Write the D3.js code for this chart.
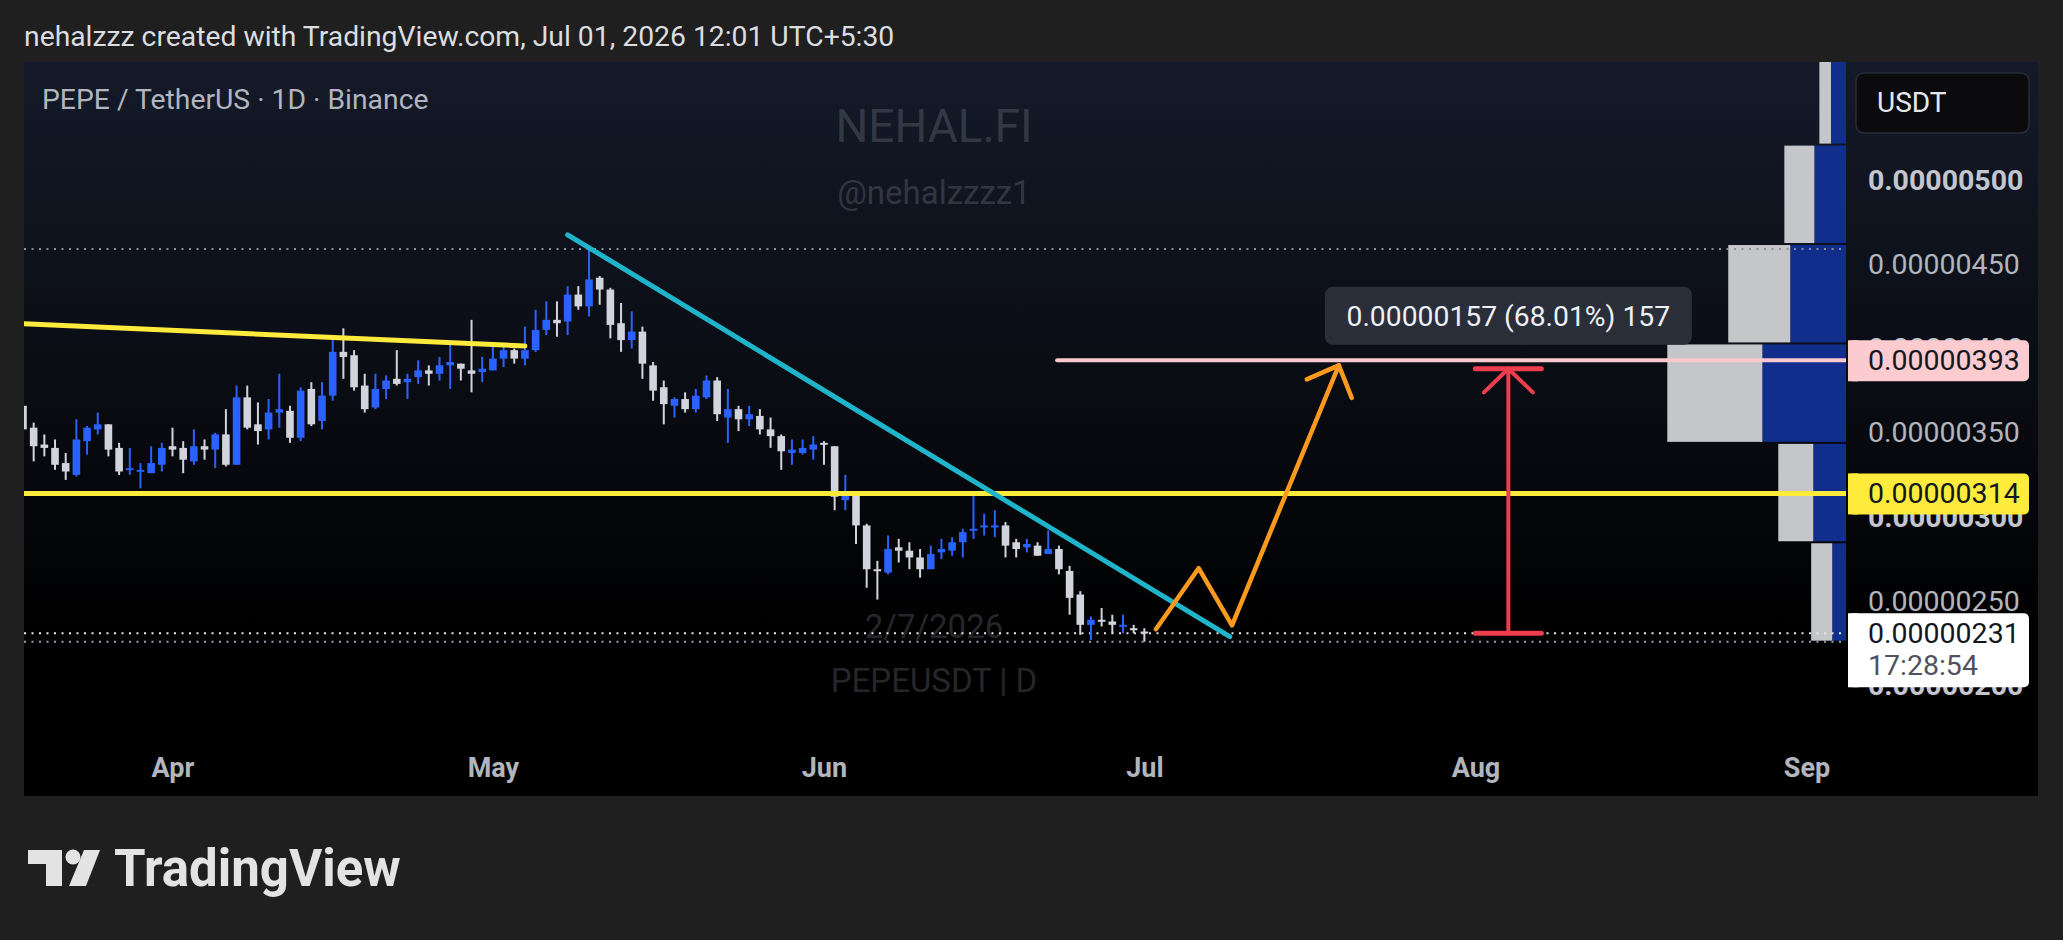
<!DOCTYPE html>
<html>
<head>
<meta charset="utf-8">
<script src="https://cdn.jsdelivr.net/npm/d3@7"></script>
<style>
  html, body { margin: 0; padding: 0; background: #1f1f1f; }
  svg { display: block; font-family: Roboto, "Noto Sans", sans-serif; }
</style>
</head>
<body>
<div id="chart"></div>
<script>
// prices are in units of 1e-6 USDT
const UNIT = 1e-6;

// daily candles, Mar 18 -> Jul 1 2026
const dates = d3.utcDay.range(new Date("2026-03-18"), new Date("2026-07-02"));
const open = [3.66,3.53,3.43,3.41,3.32,3.25,3.45,3.52,3.55,3.41,3.28,3.27,3.26,3.31,
  3.42,3.41,3.33,3.42,3.40,3.49,3.31,3.71,3.55,3.52,3.62,3.63,3.47,3.76,3.57,3.72,
  3.98,3.96,3.78,3.65,3.76,3.82,3.80,3.83,3.87,3.85,3.90,3.91,3.87,3.86,
  3.87,3.94,3.99,3.94,3.99,4.11,4.17,4.16,4.32,4.25,4.42,4.35,4.15,4.05,4.10,3.90,
  3.77,3.66,3.70,3.64,3.71,3.81,3.59,3.64,3.58,3.60,3.52,3.48,3.38,3.38,3.40,
  3.44,3.42,3.10,3.13,2.95,2.69,2.67,2.82,2.80,2.76,2.69,2.79,2.80,2.85,2.92,
  2.94,2.94,2.95,2.85,2.82,2.83,2.78,2.81,2.68,2.54,2.36,2.39,2.38,2.35,2.34,
  2.32];
const high = [3.80,3.56,3.49,3.46,3.38,3.58,3.54,3.62,3.55,3.44,3.41,3.32,3.42,3.44,
  3.53,3.45,3.52,3.46,3.50,3.64,3.78,3.78,3.68,3.70,3.85,3.66,3.77,3.80,3.80,4.06,
  4.12,3.99,3.85,3.85,3.84,3.99,3.85,3.93,3.90,3.95,4.03,3.91,4.17,3.95,
  4.03,4.01,4.00,4.13,4.23,4.28,4.28,4.37,4.37,4.59,4.43,4.36,4.27,4.22,4.13,3.92,
  3.81,3.71,3.74,3.76,3.84,3.83,3.76,3.66,3.66,3.64,3.59,3.49,3.46,3.46,3.48,
  3.45,3.42,3.25,3.14,2.96,2.74,2.89,2.87,2.85,2.81,2.83,2.87,2.88,2.93,3.13,
  3.02,3.04,2.97,2.87,2.87,2.85,2.92,2.83,2.71,2.56,2.41,2.46,2.42,2.42,2.36,
  2.34];
const low = [3.43,3.33,3.36,3.28,3.22,3.24,3.37,3.49,3.36,3.25,3.25,3.17,3.26,3.27,
  3.36,3.26,3.31,3.34,3.29,3.30,3.31,3.52,3.43,3.46,3.53,3.44,3.45,3.54,3.52,3.69,
  3.82,3.75,3.62,3.64,3.70,3.78,3.70,3.79,3.78,3.81,3.76,3.81,3.74,3.80,
  3.87,3.89,3.91,3.90,3.98,4.08,4.07,4.08,4.23,4.19,4.26,4.06,3.98,4.00,3.82,3.69,
  3.55,3.59,3.62,3.62,3.70,3.57,3.44,3.51,3.54,3.49,3.41,3.28,3.31,3.37,3.34,
  3.31,3.04,3.04,2.84,2.58,2.51,2.66,2.73,2.69,2.64,2.69,2.75,2.77,2.76,2.87,
  2.89,2.88,2.76,2.76,2.79,2.77,2.78,2.66,2.42,2.30,2.27,2.35,2.31,2.31,2.31,
  2.26];
const close = [3.52,3.42,3.41,3.31,3.27,3.46,3.53,3.55,3.40,3.27,3.29,3.28,3.32,3.41,
  3.40,3.34,3.42,3.40,3.49,3.31,3.71,3.53,3.51,3.62,3.64,3.47,3.75,3.55,3.72,3.98,
  3.95,3.77,3.64,3.76,3.81,3.79,3.82,3.87,3.85,3.90,3.92,3.88,3.85,3.88,
  3.94,3.99,3.94,3.99,4.11,4.17,4.15,4.32,4.25,4.41,4.35,4.14,4.05,4.10,3.91,3.75,
  3.67,3.70,3.64,3.72,3.81,3.61,3.64,3.58,3.61,3.52,3.48,3.39,3.40,3.41,3.43,
  3.43,3.12,3.14,2.95,2.69,2.68,2.81,2.80,2.76,2.69,2.78,2.81,2.85,2.91,2.93,
  2.95,2.95,2.83,2.81,2.84,2.77,2.81,2.69,2.52,2.36,2.39,2.38,2.36,2.36,2.33,
  2.31];

const priceTicks = [2.0, 2.5, 3.0, 3.5, 4.0, 4.5, 5.0];
const monthTicks = ["2026-04-01","2026-05-01","2026-06-01","2026-07-01","2026-08-01","2026-09-01"];

// visible range volume profile (relative volume per price row)
const vpLo = [2.26, 2.85, 3.44, 4.03, 4.62, 5.21];
const vpHi = [2.85, 3.44, 4.03, 4.62, 5.21, 5.80];
const vpUp = [7.7, 18.3, 46.8, 31.2, 17.7, 8.4];
const vpDown = [11.8, 19.6, 53.2, 34.7, 16.8, 6.5];

// drawings
const resistLine = [["2026-03-17", 4.15], ["2026-05-04", 4.015]];
const supportLevel = 3.14;
const targetLevel = 3.93;
const targetStart = "2026-06-22T20:00Z";
const trendLine = [["2026-05-08", 4.675], ["2026-07-09", 2.29]];
const projection = [["2026-07-02T02:00Z", 2.334], ["2026-07-06T02:00Z", 2.696],
  ["2026-07-09T05:00Z", 2.357], ["2026-07-19T05:00Z", 3.90]];
const measureDate = "2026-08-04T02:00Z";
const measureFrom = 2.31, measureTo = 3.88;
const measureText = "0.00000157 (68.01%) 157";
const lastPrice = 2.31;
const countdown = "17:28:54";

const W = 2063, H = 940;
const panel = {x0: 24, y0: 62, x1: 2038, y1: 796};
const axisX = 1846;

const x = d3.scaleUtc()
  .domain([new Date("2026-04-01"), new Date("2026-09-01")])
  .range([172.5, 1806.5]);
const y = d3.scaleLinear().domain([2, 5]).range([685.5, 180]);
const vx = d3.scaleLinear().domain([0, 100]).range([0, 178.7]);
const fmt = v => (v * UNIT).toFixed(8);
const pt = d => [x(new Date(d[0])), y(d[1])];

const svg = d3.select("#chart").append("svg")
  .attr("width", W).attr("height", H);

const defs = svg.append("defs");
const grad = defs.append("linearGradient")
  .attr("id", "bg").attr("x1", 0).attr("y1", 0).attr("x2", 0).attr("y2", 1);
grad.append("stop").attr("offset", "0%").attr("stop-color", "#141a29");
grad.append("stop").attr("offset", "45%").attr("stop-color", "#0a0c13");
grad.append("stop").attr("offset", "78%").attr("stop-color", "#000000");
grad.append("stop").attr("offset", "100%").attr("stop-color", "#000000");
defs.append("clipPath").attr("id", "plot")
  .append("rect").attr("x", panel.x0).attr("y", panel.y0)
  .attr("width", axisX - panel.x0).attr("height", panel.y1 - panel.y0);

svg.append("rect").attr("width", W).attr("height", H).attr("fill", "#1f1f1f");

svg.append("text")
  .attr("x", 24).attr("y", 36).attr("dy", "0.35em")
  .attr("fill", "#dcdde0").attr("font-size", 28.3)
  .text("nehalzzz created with TradingView.com, Jul 01, 2026 12:01 UTC+5:30");

svg.append("rect")
  .attr("x", panel.x0).attr("y", panel.y0)
  .attr("width", panel.x1 - panel.x0).attr("height", panel.y1 - panel.y0)
  .attr("fill", "url(#bg)");

// watermarks
const wm = svg.append("g").attr("text-anchor", "middle").attr("fill", "rgba(134,138,150,0.3)");
wm.append("text").attr("x", 934).attr("y", 126).attr("dy", "0.35em").attr("font-size", 46).text("NEHAL.FI");
wm.append("text").attr("x", 934).attr("y", 192).attr("dy", "0.35em").attr("font-size", 33).text("@nehalzzzz1");
wm.append("text").attr("x", 934).attr("y", 626).attr("dy", "0.35em").attr("font-size", 33).text("2/7/2026");
wm.append("text").attr("x", 934).attr("y", 680).attr("dy", "0.35em").attr("font-size", 33).text("PEPEUSDT | D");

svg.append("text")
  .attr("x", 42).attr("y", 99).attr("dy", "0.35em")
  .attr("fill", "#b2b5be").attr("font-size", 28.3)
  .text("PEPE / TetherUS \u00b7 1D \u00b7 Binance");

const plot = svg.append("g").attr("clip-path", "url(#plot)");

// volume profile
const vp = plot.append("g");
vpLo.forEach((lo, i) => {
  const top = y(vpHi[i]) + 1, bot = y(lo) - 1;
  vp.append("rect")
    .attr("x", axisX - vx(vpUp[i])).attr("y", top)
    .attr("width", vx(vpUp[i])).attr("height", bot - top)
    .attr("fill", "#112e8c");
  vp.append("rect")
    .attr("x", axisX - vx(vpUp[i] + vpDown[i])).attr("y", top)
    .attr("width", vx(vpDown[i])).attr("height", bot - top)
    .attr("fill", "#c5c6c9");
});

// range high / low and last price dotted lines
const hiY = y(d3.max(high)), loY = y(d3.min(low));
[[hiY, "#8d9099"], [loY, "#9aa0ac"], [y(lastPrice), "#e6e8ee"]].forEach(([yy, c]) => {
  plot.append("line")
    .attr("x1", panel.x0).attr("x2", axisX).attr("y1", yy).attr("y2", yy)
    .attr("stroke", c).attr("stroke-width", 2).attr("stroke-dasharray", "2 5.5");
});

// candles
const bw = 7.6;
const candles = plot.append("g").selectAll("g").data(dates).join("g")
  .attr("fill", (d, i) => close[i] >= open[i] ? "#2962ff" : "#d1d4dc");
candles.append("rect")
  .attr("x", d => x(d) - 1).attr("width", 2)
  .attr("y", (d, i) => y(high[i]))
  .attr("height", (d, i) => y(low[i]) - y(high[i]));
candles.append("rect")
  .attr("x", d => x(d) - bw / 2).attr("width", bw)
  .attr("y", (d, i) => y(Math.max(open[i], close[i])))
  .attr("height", (d, i) => Math.max(2, Math.abs(y(open[i]) - y(close[i]))));

// drawings
const line = d3.line();
const draw = (pts, color, w) => plot.append("path")
  .attr("d", line(pts)).attr("fill", "none")
  .attr("stroke", color).attr("stroke-width", w)
  .attr("stroke-linecap", "round").attr("stroke-linejoin", "round");

function wings(tip, from, len, deg) {
  const dx = from[0] - tip[0], dy = from[1] - tip[1];
  const n = Math.hypot(dx, dy), ux = dx / n, uy = dy / n;
  return [-1, 1].map(s => {
    const a = s * deg * Math.PI / 180;
    return [tip[0] + len * (ux * Math.cos(a) - uy * Math.sin(a)),
            tip[1] + len * (ux * Math.sin(a) + uy * Math.cos(a))];
  });
}

draw(resistLine.map(pt), "#ffeb3b", 5);
draw([[panel.x0, y(supportLevel)], [axisX, y(supportLevel)]], "#ffeb3b", 5);
draw([[x(new Date(targetStart)), y(targetLevel)], [axisX + 4, y(targetLevel)]], "#f9c9ce", 4);
draw(trendLine.map(pt), "#1fb4c9", 5);

const proj = projection.map(pt);
draw(proj, "#fb9a1e", 4.5);
const tip = proj[proj.length - 1];
const ow = wings(tip, proj[proj.length - 2], 35, 44);
draw([ow[0], tip, ow[1]], "#fb9a1e", 4.5);

const mx = x(new Date(measureDate));
const mTop = [mx, y(measureTo)], mBot = [mx, y(measureFrom)];
draw([mBot, mTop], "#ee3d4c", 4);
draw([[mx - 33, mTop[1]], [mx + 33, mTop[1]]], "#ee3d4c", 5);
draw([[mx - 33, mBot[1]], [mx + 33, mBot[1]]], "#ee3d4c", 5);
const rw = wings(mTop, mBot, 34, 46);
draw([rw[0], mTop, rw[1]], "#ee3d4c", 4);

const lab = svg.append("g");
lab.append("rect")
  .attr("x", mx - 183.5).attr("y", mTop[1] - 82).attr("width", 367).attr("height", 58)
  .attr("rx", 8).attr("fill", "#2a2e39");
lab.append("text")
  .attr("x", mx).attr("y", mTop[1] - 53).attr("dy", "0.35em")
  .attr("text-anchor", "middle").attr("fill", "#eef0f4").attr("font-size", 28.3)
  .text(measureText);

// price axis
const yAxis = svg.append("g")
  .attr("transform", `translate(${axisX},0)`)
  .call(d3.axisRight(y).tickValues(priceTicks).tickSize(0).tickPadding(22).tickFormat(fmt));
yAxis.select(".domain").remove();
yAxis.selectAll("text")
  .attr("font-size", 28.5).attr("font-family", "Roboto")
  .attr("fill", d => Number.isInteger(d) ? "#c3c6ce" : "#b2b5be")
  .attr("font-weight", d => Number.isInteger(d) ? 700 : 400);

// time axis
const xAxis = svg.append("g")
  .attr("transform", "translate(0,768)")
  .call(d3.axisBottom(x).tickValues(monthTicks.map(d => new Date(d)))
    .tickSize(0).tickPadding(0).tickFormat(d3.utcFormat("%b")));
xAxis.select(".domain").remove();
xAxis.selectAll("text")
  .attr("dy", "0.35em").attr("font-size", 27).attr("font-weight", 700)
  .attr("font-family", "Roboto").attr("fill", "#b2b5be");

// price labels on the scale
function priceTag(v, bg, h) {
  const g = svg.append("g");
  g.append("rect").attr("x", 1848).attr("y", y(v) - 20).attr("width", 181).attr("height", h)
    .attr("rx", 5).attr("fill", bg);
  g.append("rect").attr("x", 1848).attr("y", y(v) - 20).attr("width", 10).attr("height", h)
    .attr("fill", bg);
  g.append("text").attr("x", 1868).attr("y", y(v)).attr("dy", "0.35em")
    .attr("font-size", 28.5).attr("fill", "#131722").text(fmt(v));
  return g;
}
priceTag(targetLevel, "#fccbcf", 41);
priceTag(supportLevel, "#ffeb3b", 41);
priceTag(lastPrice, "#ffffff", 74)
  .append("text").attr("x", 1868).attr("y", y(lastPrice) + 32).attr("dy", "0.35em")
  .attr("font-size", 28.5).attr("fill", "#50535e").text(countdown);

// currency box
svg.append("rect").attr("x", 1856).attr("y", 73).attr("width", 173).attr("height", 60)
  .attr("rx", 8).attr("fill", "#0b0b0d").attr("stroke", "#2a2d35").attr("stroke-width", 1.5);
svg.append("text").attr("x", 1877).attr("y", 102).attr("dy", "0.35em")
  .attr("font-size", 28).attr("fill", "#e6e8ee").text("USDT");

// footer logo
const logo = svg.append("g").attr("fill", "#e3e3e3");
logo.append("path").attr("d", "M28,850 H62 V886 H46 V864 H28 Z");
logo.append("circle").attr("cx", 73).attr("cy", 857).attr("r", 7.5);
logo.append("path").attr("d", "M84,850 H100 L86,886 H69 Z");
logo.append("text").attr("x", 114).attr("y", 886)
  .attr("font-size", 51).attr("font-weight", 700)
  .text("TradingView");
</script>
</body>
</html>
